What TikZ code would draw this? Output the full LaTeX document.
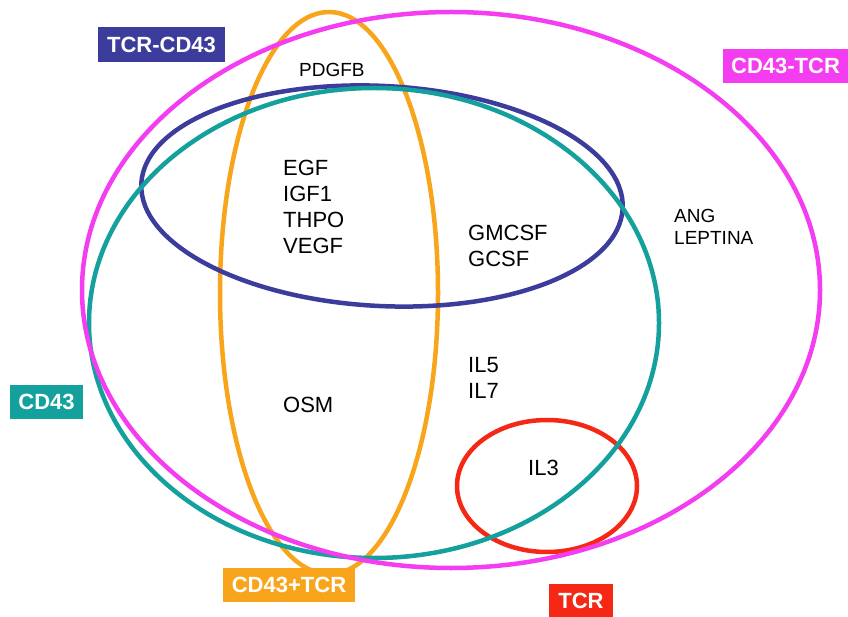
\documentclass[tikz,border=0pt]{standalone}
\usepackage{fontspec}
\setmainfont{Liberation Sans}
\definecolor{cmag}{HTML}{F43CF0}
\definecolor{cteal}{HTML}{14A09C}
\definecolor{cblue}{HTML}{3C3C9C}
\definecolor{corange}{HTML}{F9A51B}
\definecolor{cred}{HTML}{F42814}
\begin{document}
\begin{tikzpicture}[x=1pt,y=-1pt,
  ring/.style={line width=4.5pt},
  gene/.style={font=\fontsize{22}{26}\selectfont, align=left, anchor=west, inner sep=0pt},
  genesm/.style={font=\fontsize{19}{22}\selectfont, align=left, anchor=west, inner sep=0pt},
  tag/.style={font=\fontsize{22}{26}\selectfont\bfseries, text=white, inner sep=0pt}]
\useasboundingbox (0,0) rectangle (848,617);
\fill[white] (0,0) rectangle (848,617);
% sets
\draw[ring, cred] (547,486) ellipse [x radius=90, y radius=66];
\draw[ring, corange] (329,293) ellipse [x radius=109, y radius=281];
\draw[ring, cblue, rotate around={-3:(382,196)}] (382,196) ellipse [x radius=241, y radius=110];
\draw[ring, cteal] (374,323) ellipse [x radius=285, y radius=235];
\draw[ring, cmag] (451,290) ellipse [x radius=369, y radius=278];
% contents
\node[genesm] (pdgfb) at (299,70) {PDGFB};
\node[gene] (egf) at (283,207) {EGF\\IGF1\\THPO\\VEGF};
\node[gene] (gm) at (468,246) {GMCSF\\GCSF};
\node[genesm] (ang) at (674,227) {ANG\\LEPTINA};
\node[gene] (il5) at (468,378) {IL5\\IL7};
\node[gene] (osm) at (283,405) {OSM};
\node[gene] (il3) at (528,468) {IL3};
% tags
\node[tag, fill=cblue, minimum width=127pt, minimum height=35pt] (t1) at (161.5,44.5) {TCR-CD43};
\node[tag, fill=cmag, minimum width=125pt, minimum height=34pt] (t2) at (785.5,66) {CD43-TCR};
\node[tag, fill=cteal, minimum width=73pt, minimum height=34pt] (t3) at (46.5,402) {CD43};
\node[tag, fill=corange, minimum width=132pt, minimum height=34pt] (t4) at (289,585) {CD43+TCR};
\node[tag, fill=cred, minimum width=64pt, minimum height=33pt] (t5) at (581,600.5) {TCR};
\end{tikzpicture}
\end{document}
